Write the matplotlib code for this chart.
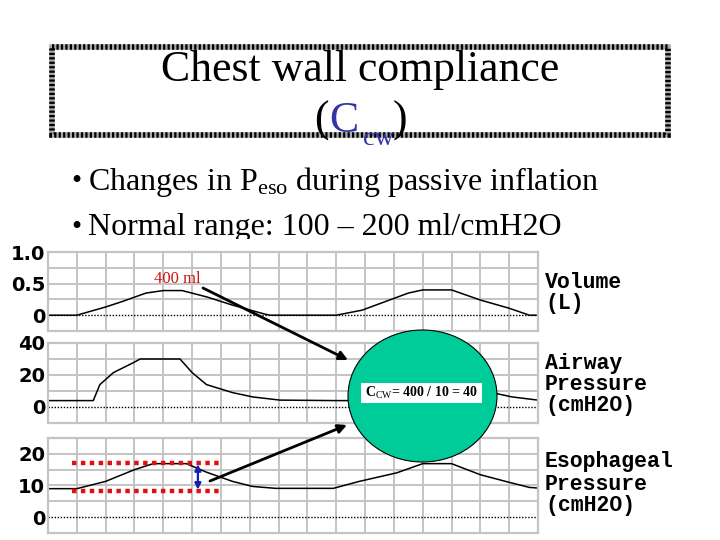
import numpy as np
import matplotlib
matplotlib.use("Agg")
import matplotlib.pyplot as plt
from matplotlib.patches import Rectangle, Ellipse

plt.rcParams['mathtext.fontset'] = 'custom'
plt.rcParams['mathtext.rm'] = 'Liberation Serif'
plt.rcParams['mathtext.it'] = 'Liberation Serif:italic'
plt.rcParams['mathtext.bf'] = 'Liberation Serif:bold'

# time axis in grid columns (17 columns across the trace)
t_vol = [0, 1.0, 2.0, 2.6, 3.4, 4.0, 4.65, 5.5, 6.4, 7.5, 7.7,
         10.0, 10.9, 12.5, 13.0, 14.0, 15.0, 16.0, 16.7, 17]
vol = [0, 0, 0.13, 0.22, 0.35, 0.39, 0.39, 0.29, 0.16, 0.02, 0,
       0, 0.08, 0.35, 0.40, 0.40, 0.24, 0.11, 0, 0]

t_paw = [0, 1.57, 1.8, 2.27, 2.96, 3.2, 4.58, 5.0, 5.5, 6.4, 7.1, 8.05,
         10.0, 10.57, 10.8, 11.27, 11.96, 12.2, 13.58, 14.0, 14.5, 15.4, 16.1, 17]
paw = [4, 4, 14, 21.5, 27.7, 30, 30, 21.5, 14, 9, 6.3, 4.3,
       4, 4, 14, 21.5, 27.7, 30, 30, 21.5, 14, 9, 6.3, 4.3]

t_pes = [0, 1.0, 2.0, 3.0, 3.65, 4.8, 5.5, 6.4, 7.1, 7.9,
         9.9, 10.8, 12.1, 13.0, 14.0, 15.0, 16.0, 16.7, 17]
pes = [9, 9, 11.3, 15, 16.9, 16.9, 14.2, 11.3, 9.7, 9.1,
       9.1, 11.3, 14, 16.9, 16.9, 13.4, 11, 9.4, 9.2]

# Peso swing marked on the esophageal trace
pes_hi = 17.1
pes_lo = 8.3

panel_names = ["Volume\n(L)", "Airway\nPressure\n(cmH2O)", "Esophageal\nPressure\n(cmH2O)"]
panel_ylim = [(-0.25, 1.0), (-10, 40), (-5, 25)]
panel_ygrid = [0.25, 10, 5]
panel_ticks = [[0, 0.5, 1.0], [0, 20, 40], [0, 10, 20]]
panel_ticklabels = [["0", "0.5", "1.0"], ["0", "20", "40"], ["0", "10", "20"]]
series = [(t_vol, vol), (t_paw, paw), (t_pes, pes)]

W, H = 720, 540
fig = plt.figure(figsize=(7.2, 5.4), dpi=100)


def px_axes(x0, y0, x1, y1):
    return [x0 / W, 1 - y1 / H, (x1 - x0) / W, (y1 - y0) / H]


# background layer: title and bullets
bg = fig.add_axes([0, 0, 1, 1])
bg.set_xlim(0, W)
bg.set_ylim(H, 0)
bg.axis("off")
bg.set_zorder(0)

bg.add_patch(Rectangle((52, 47), 616, 88, fill=False, edgecolor="#aaaaaa", lw=4.0))
bg.add_patch(Rectangle((52, 47), 616, 88, fill=False, edgecolor="black", lw=4.0,
                       linestyle=(0, (0.4, 0.4))))
bg.text(360, 70, "Chest wall compliance", family="Liberation Serif", fontsize=31.5,
        ha="center", va="center")
bg.text(321, 121, "(", family="Liberation Serif", fontsize=31.5, ha="center", va="center")
bg.text(344, 121, "C", family="Liberation Serif", fontsize=31.5, ha="center", va="center",
        color="#3333aa")
bg.text(378, 139, "cw", family="Liberation Serif", fontsize=19, ha="center", va="center",
        color="#3333aa")
bg.text(400, 121, ")", family="Liberation Serif", fontsize=31.5, ha="center", va="center")

bg.text(71, 182, "\u2022", family="Liberation Serif", fontsize=21, ha="left", va="center")
bg.text(88, 182, r"Changes in P$_\mathrm{eso}$ during passive inflation",
        family="Liberation Serif", fontsize=23, ha="left", va="center")
bg.text(71, 228, "\u2022", family="Liberation Serif", fontsize=21, ha="left", va="center")
bg.text(88, 228, "Normal range: 100 \u2013 200 ml/cmH2O",
        family="Liberation Serif", fontsize=23, ha="left", va="center")
# the trace picture sits over the lower edge of the second bullet
bg.add_patch(Rectangle((0, 239), W, H - 239, facecolor="white", edgecolor="none", zorder=5))

# the three trace panels
boxes = [(48, 252, 538, 331), (48, 343, 538, 423), (48, 438, 538, 533)]
label_y = [(283, 303), (363, 384, 405), (462, 484, 505)]
axes = []
for k in range(3):
    ax = fig.add_axes(px_axes(*boxes[k]))
    ax.set_zorder(1)
    lo, hi = panel_ylim[k]
    ax.set_xlim(0, 17)
    ax.set_ylim(lo, hi)
    for gx in range(1, 17):
        ax.axvline(gx, color="#c4c4c4", lw=1.4, zorder=0)
    for gy in np.arange(lo + panel_ygrid[k], hi, panel_ygrid[k]):
        if abs(gy) > 1e-9:
            ax.axhline(gy, color="#c4c4c4", lw=1.4, zorder=0)
    for s in ax.spines.values():
        s.set_color("#c4c4c4")
        s.set_linewidth(1.6)
    ax.axhline(0, color="black", lw=1.0, linestyle=(0, (1, 1.2)), zorder=1)
    t, v = series[k]
    ax.plot(t, v, color="black", lw=1.1, zorder=2)
    ax.set_xticks([])
    ax.set_yticks(panel_ticks[k])
    ax.set_yticklabels(panel_ticklabels[k], family="DejaVu Sans", fontweight="bold",
                       fontsize=14)
    ax.tick_params(axis="y", length=0, pad=2)
    axes.append(ax)

axes[0].text(4.5, 0.57, "400 ml", color="#cc1111", family="Liberation Serif",
             fontsize=12, ha="center", va="center")

ax3 = axes[2]
ax3.hlines([pes_hi, pes_lo], 0.83, 6.04, color="#e01010", lw=3.2,
           linestyles=[(0, (1, 1))], zorder=3)
ax3.annotate("", xy=(5.2, pes_lo + 0.4), xytext=(5.2, pes_hi - 0.4),
             arrowprops=dict(arrowstyle="<|-|>", color="#1020b0", lw=1.6,
                             mutation_scale=9, shrinkA=0, shrinkB=0), zorder=4)

# top layer: arrows, circle, labels
ov = fig.add_axes([0, 0, 1, 1])
ov.set_xlim(0, W)
ov.set_ylim(H, 0)
ov.axis("off")
ov.set_zorder(2)
ov.patch.set_alpha(0)

for k in range(3):
    for line, yy in zip(panel_names[k].split("\n"), label_y[k]):
        ov.text(545, yy, line, family="Liberation Mono", fontweight="bold",
                fontsize=15.5, ha="left", va="center")

ov.annotate("", xy=(348, 360), xytext=(203, 288),
            arrowprops=dict(arrowstyle="-|>", color="black", lw=2.0,
                            mutation_scale=13, shrinkA=0, shrinkB=0))
ov.annotate("", xy=(347, 425), xytext=(210, 481),
            arrowprops=dict(arrowstyle="-|>", color="black", lw=2.0,
                            mutation_scale=13, shrinkA=0, shrinkB=0))

ov.add_patch(Ellipse((422.5, 396), 149, 132, facecolor="#00cc99", edgecolor="black", lw=0.8))
ov.add_patch(Rectangle((361, 383), 121, 20, facecolor="white", edgecolor="none"))
ov.text(365, 393, r"C$_\mathrm{CW}$= 400 / 10 = 40", family="Liberation Serif",
        fontweight="bold", fontsize=10, ha="left", va="center")

fig.savefig("out.png", dpi=100)
